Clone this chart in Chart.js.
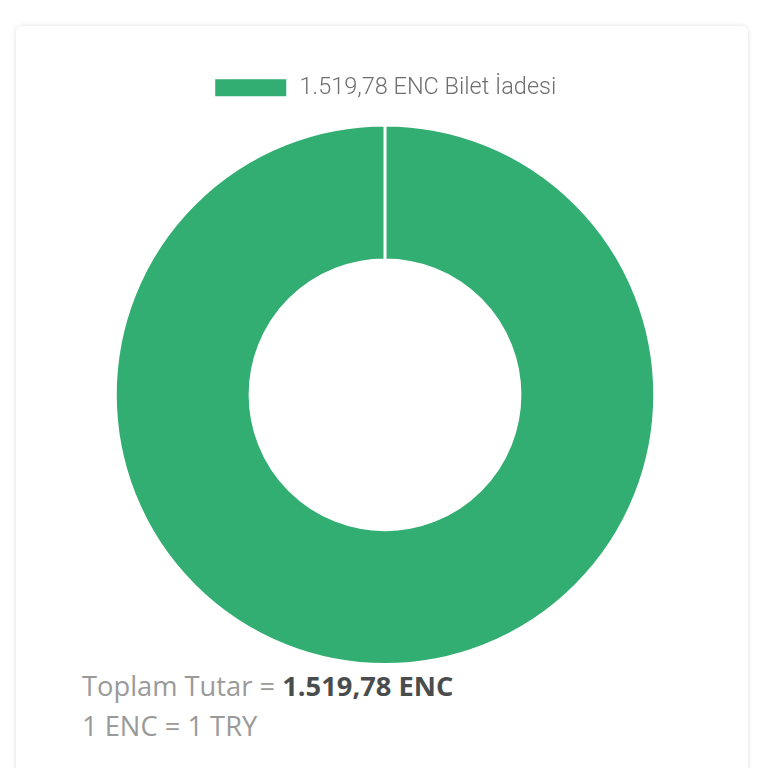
<!DOCTYPE html>
<html>
<head>
<meta charset="utf-8">
<script src="https://cdn.jsdelivr.net/npm/chart.js@4/dist/chart.umd.min.js"></script>
<style>
  html, body { margin: 0; padding: 0; background: #fff; width: 768px; height: 768px; overflow: hidden; }
  .card {
    position: absolute; left: 16px; top: 26px; width: 732px; height: 800px;
    background: #fff; border-radius: 6px;
    box-shadow: 0 0 5px rgba(0,0,0,0.13);
  }
  .chart-box { position: absolute; left: 4px; top: 40px; width: 730px; height: 600px; }
  .summary {
    position: absolute; left: 66px; top: 640px;
    font-family: "Open Sans", sans-serif; font-size: 27.3px; line-height: 40px; color: #9a9a9a;
  }
  .summary b { color: #4a4d4d; font-weight: 700; }
</style>
</head>
<body>
<div class="card">
  <div class="chart-box"><canvas id="donut"></canvas></div>
  <div class="summary">
    <div>Toplam Tutar = <b>1.519,78 ENC</b></div>
    <div>1 ENC = 1 TRY</div>
  </div>
</div>
<script>
// data
const labels = ['1.519,78 ENC Bilet İadesi'];
const amounts = [1519.78];
const colors = ['#33ae72'];

// a bit more room below the legend
const legendGap = {
  id: 'legendGap',
  beforeInit(chart) {
    const fit = chart.legend.fit;
    chart.legend.fit = function () {
      fit.bind(chart.legend)();
      this.height += 14;
    };
  }
};

const ctx = document.getElementById('donut');
new Chart(ctx, {
  type: 'doughnut',
  data: {
    labels: labels,
    datasets: [{ data: amounts, backgroundColor: colors, borderColor: '#fff', borderWidth: 3 }]
  },
  options: {
    responsive: true,
    maintainAspectRatio: false,
    animation: false,
    cutout: '50%',
    plugins: {
      tooltip: { enabled: false },
      legend: {
        position: 'top',
        labels: {
          boxWidth: 74, boxHeight: 20,
          color: '#6e6e6e',
          font: { family: 'Roboto', size: 23.5, weight: '300' }
        }
      }
    }
  },
  plugins: [legendGap]
});
</script>
</body>
</html>
